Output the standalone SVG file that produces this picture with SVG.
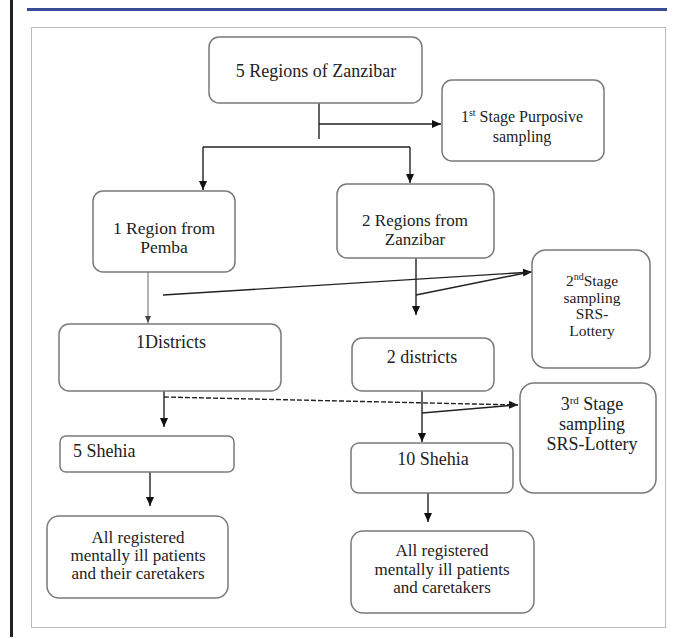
<svg xmlns="http://www.w3.org/2000/svg" width="675" height="639" viewBox="0 0 675 639">
<style>
.box{fill:#fff;stroke:#7a7a7a;stroke-width:1.5}
.t{font-family:'Liberation Serif','Times New Roman',serif;fill:#222;text-anchor:middle}
.c{stroke:#222;stroke-width:1.4;fill:none}
</style>
<defs>
<marker id="ah" markerUnits="userSpaceOnUse" markerWidth="10" markerHeight="10" refX="9" refY="5" orient="auto">
<path d="M0,1 L9,5 L0,9 Z" fill="#111"/>
</marker>
<marker id="ahs" markerUnits="userSpaceOnUse" markerWidth="8" markerHeight="8" refX="7" refY="4" orient="auto">
<path d="M0,1 L7,4 L0,7 Z" fill="#444"/>
</marker>
</defs>
<rect x="10" y="0" width="3" height="637" fill="#222"/>
<rect x="27" y="8" width="640" height="3" fill="#3b4a96"/>
<rect x="31.5" y="27.5" width="634" height="600" fill="#fff" stroke="#bbb" stroke-width="1"/>

<g id="connectors">
<path class="c" d="M319,103 V139"/>
<path class="c" d="M319,124 H441" marker-end="url(#ah)"/>
<path class="c" d="M203,147 H410"/>
<path class="c" d="M203,147 V190" marker-end="url(#ah)"/>
<path class="c" d="M410,147 V183" marker-end="url(#ah)"/>
<path d="M148,272 V323" stroke="#666" stroke-width="1" marker-end="url(#ahs)"/>
<path class="c" d="M163,295 L532,272" marker-end="url(#ah)"/>
<path class="c" d="M416,258 V315" marker-end="url(#ah)"/>
<path class="c" d="M416,295 L530,272"/>
<path class="c" d="M164,391 V427" marker-end="url(#ah)"/>
<path class="c" d="M164,397 L518,405" stroke-dasharray="5,2" marker-end="url(#ah)"/>
<path class="c" d="M422,391 V442" marker-end="url(#ah)"/>
<path class="c" d="M422,413 L516,405"/>
<path class="c" d="M150,472 V506" marker-end="url(#ah)"/>
<path class="c" d="M428,493 V522" marker-end="url(#ah)"/>
</g>

<g id="n-top">
<rect class="box" x="209" y="37" width="213" height="66" rx="10"/>
<text class="t" x="316" y="77" font-size="18">5 Regions of Zanzibar</text>
</g>
<g id="n-stage1">
<rect class="box" x="442" y="80" width="162" height="81" rx="10"/>
<text class="t" x="522" y="122" font-size="16">1<tspan font-size="10" dy="-6">st</tspan><tspan dy="6"> Stage Purposive</tspan></text>
<text class="t" x="522" y="142" font-size="16">sampling</text>
</g>
<g id="n-pemba">
<rect class="box" x="93" y="191" width="142" height="81" rx="10"/>
<text class="t" x="164" y="234" font-size="17.5">1 Region from</text>
<text class="t" x="164" y="253" font-size="17.5">Pemba</text>
</g>
<g id="n-zanzibar">
<rect class="box" x="337" y="184" width="157" height="74" rx="10"/>
<text class="t" x="415" y="226" font-size="17">2 Regions from</text>
<text class="t" x="415" y="245" font-size="17">Zanzibar</text>
</g>
<g id="n-stage2">
<rect class="box" x="532" y="250" width="118" height="118" rx="14"/>
<text class="t" x="592" y="286" font-size="15.5">2<tspan font-size="10" dy="-6">nd</tspan><tspan dy="6">Stage</tspan></text>
<text class="t" x="592" y="302.5" font-size="15.5">sampling</text>
<text class="t" x="592" y="319" font-size="15.5">SRS-</text>
<text class="t" x="592" y="335.5" font-size="15.5">Lottery</text>
</g>
<g id="n-1districts">
<rect class="box" x="59" y="324" width="222" height="67" rx="10"/>
<text class="t" x="171" y="348" font-size="18">1Districts</text>
</g>
<g id="n-2districts">
<rect class="box" x="352" y="338" width="142" height="53" rx="10"/>
<text class="t" x="422" y="363" font-size="18">2 districts</text>
</g>
<g id="n-stage3">
<rect class="box" x="520" y="383" width="136" height="110" rx="14"/>
<text class="t" x="592" y="410" font-size="18">3<tspan font-size="11" dy="-6">rd</tspan><tspan dy="6"> Stage</tspan></text>
<text class="t" x="592" y="430" font-size="18">sampling</text>
<text class="t" x="592" y="450" font-size="18">SRS-Lottery</text>
</g>
<g id="n-5shehia">
<rect class="box" x="60" y="436" width="174" height="36" rx="6"/>
<text class="t" x="73" y="457" font-size="18" style="text-anchor:start">5 Shehia</text>
</g>
<g id="n-10shehia">
<rect class="box" x="351" y="443" width="162" height="50" rx="8"/>
<text class="t" x="433" y="465" font-size="18">10 Shehia</text>
</g>
<g id="n-all-left">
<rect class="box" x="47" y="516" width="181" height="82" rx="12"/>
<text class="t" x="138" y="543" font-size="17">All registered</text>
<text class="t" x="138" y="561" font-size="17">mentally ill patients</text>
<text class="t" x="138" y="579" font-size="17">and their caretakers</text>
</g>
<g id="n-all-right">
<rect class="box" x="351" y="531" width="183" height="82" rx="12"/>
<text class="t" x="442" y="556" font-size="17">All registered</text>
<text class="t" x="442" y="574.5" font-size="17">mentally ill patients</text>
<text class="t" x="442" y="593" font-size="17">and caretakers</text>
</g>
</svg>
